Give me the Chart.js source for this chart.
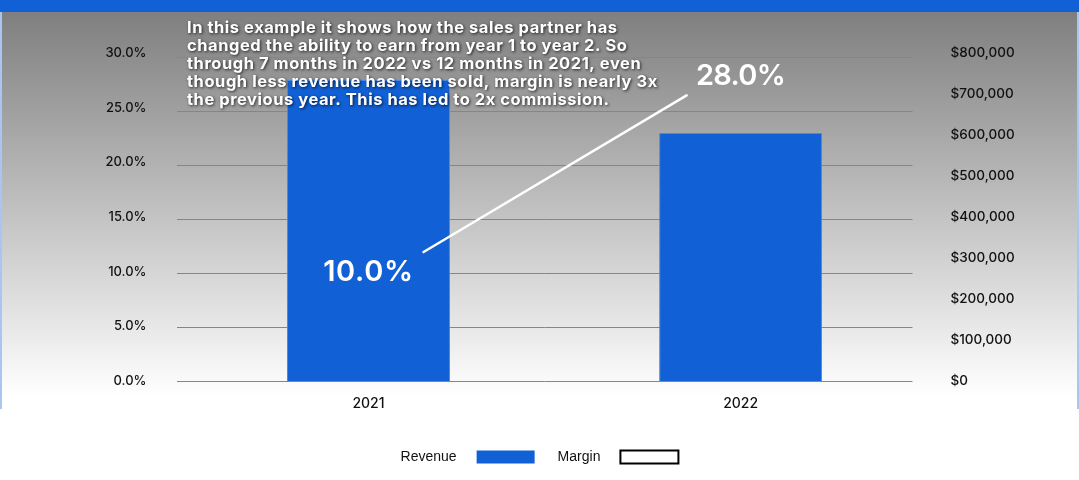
<!DOCTYPE html>
<html>
<head>
<meta charset="utf-8">
<script src="https://cdn.jsdelivr.net/npm/chart.js@4.4.1/dist/chart.umd.min.js"></script>
<style>
  html, body { margin: 0; padding: 0; background: #ffffff; }
  #wrap { position: relative; width: 1079px; height: 480px; }
</style>
</head>
<body>
<div id="wrap"><canvas id="c" width="1079" height="480"></canvas></div>
<script>
// ---- data ----
const categories = ['2021', '2022'];
const revenue = [734000, 605000];
const margin = [0.10, 0.28];
const percentTicks = [0, 0.05, 0.10, 0.15, 0.20, 0.25, 0.30];
const dollarTicks = [0, 100000, 200000, 300000, 400000, 500000, 600000, 700000, 800000];
const noteLines = [
  'In this example it shows how the sales partner has',
  'changed the ability to earn from year 1 to year 2. So',
  'through 7 months in 2022 vs 12 months in 2021, even',
  'though less revenue has been sold, margin is nearly 3x',
  'the previous year. This has led to 2x commission.'
];
const legendItems = [
  { label: 'Revenue', fill: '#1160d6', stroke: '#1160d6', lw: 0 },
  { label: 'Margin', fill: '#ffffff', stroke: '#000000', lw: 2 }
];

const BLUE = '#1160d6';
const TICK_FONT = { family: 'Inter', size: 13, weight: '500' };

const bgPlugin = {
  id: 'bg',
  beforeDraw(chart) {
    const ctx = chart.ctx, W = chart.width;
    ctx.save();
    ctx.fillStyle = '#ffffff';
    ctx.fillRect(0, 0, W, chart.height);
    const g = ctx.createLinearGradient(0, 12, 0, 397);
    g.addColorStop(0, '#7f7f7f');
    g.addColorStop(1, '#ffffff');
    ctx.fillStyle = g;
    ctx.fillRect(0, 12, W, 385);
    ctx.fillStyle = BLUE;
    ctx.fillRect(0, 0, W, 12);
    ctx.fillStyle = '#a9c6f0';
    ctx.fillRect(0, 12, 2, 397);
    ctx.fillRect(W - 2, 12, 2, 397);
    ctx.restore();
  }
};

function fitSpacing(ctx, text, target) {
  ctx.letterSpacing = '0px';
  const w = ctx.measureText(text).width;
  return (target - w) / (text.length - 1);
}

const overlayPlugin = {
  id: 'overlay',
  afterDatasetsDraw(chart) {
    const ctx = chart.ctx;
    const meta = chart.getDatasetMeta(1);
    const p0 = meta.data[0], p1 = meta.data[1];
    const t0 = 0.148, t1 = 0.855;
    ctx.save();
    ctx.strokeStyle = '#ffffff';
    ctx.lineWidth = 2.5;
    ctx.lineCap = 'round';
    ctx.beginPath();
    ctx.moveTo(p0.x + (p1.x - p0.x) * t0, p0.y + (p1.y - p0.y) * t0 + 9.5);
    ctx.lineTo(p0.x + (p1.x - p0.x) * t1, p0.y + (p1.y - p0.y) * t1 - 8);
    ctx.stroke();
    // data labels
    ctx.fillStyle = '#ffffff';
    ctx.font = '600 29px Inter';
    ctx.textAlign = 'center';
    ctx.textBaseline = 'middle';
    meta.data.forEach((pt, i) => {
      const s = (margin[i] * 100).toFixed(1) + '%';
      ctx.letterSpacing = fitSpacing(ctx, s, 90) + 'px';
      ctx.fillText(s, pt.x, pt.y + 1);
    });
    ctx.restore();
  },
  afterDraw(chart) {
    const ctx = chart.ctx;
    ctx.save();
    // note text
    ctx.font = '700 16.5px Inter';
    ctx.textAlign = 'left';
    ctx.textBaseline = 'middle';
    const ls = fitSpacing(ctx, noteLines[0], 430);
    ctx.letterSpacing = ls + 'px';
    ctx.fillStyle = '#ffffff';
    ctx.shadowColor = 'rgba(0,0,0,0.75)';
    ctx.shadowBlur = 3;
    ctx.shadowOffsetX = 1;
    ctx.shadowOffsetY = 1.5;
    noteLines.forEach((ln, i) => ctx.fillText(ln, 187, 28 + i * 18));
    ctx.restore();

    // legend
    ctx.save();
    ctx.font = '14px "Liberation Sans", Arial, sans-serif';
    ctx.textBaseline = 'middle';
    ctx.textAlign = 'left';
    const boxW = 58, boxH = 13, gapTB = 20, gapItem = 23;
    let total = 0;
    legendItems.forEach((it, i) => {
      total += ctx.measureText(it.label).width + gapTB + boxW + (i ? gapItem : 0);
    });
    let x = chart.width / 2 - total / 2;
    const y = 457;
    legendItems.forEach((it, i) => {
      if (i) x += gapItem;
      ctx.fillStyle = '#111';
      ctx.fillText(it.label, x, y);
      x += ctx.measureText(it.label).width + gapTB;
      ctx.fillStyle = it.fill;
      ctx.fillRect(x, y - boxH / 2, boxW, boxH);
      if (it.lw) {
        ctx.strokeStyle = it.stroke;
        ctx.lineWidth = it.lw;
        ctx.strokeRect(x, y - boxH / 2, boxW, boxH);
      }
      x += boxW;
    });
    ctx.restore();
  }
};

new Chart(document.getElementById('c'), {
  type: 'bar',
  data: {
    datasets: [
      {
        label: 'Revenue', data: revenue.map((v, i) => ({ x: i, y: v })), yAxisID: 'y1', order: 2,
        backgroundColor: BLUE, borderColor: '#4a88ea', borderWidth: 1,
        categoryPercentage: 1, barPercentage: 0.438
      },
      {
        type: 'line', label: 'Margin', data: margin.map((v, i) => ({ x: i, y: v })), yAxisID: 'y', order: 1,
        showLine: false, pointRadius: 0, borderColor: '#ffffff'
      }
    ]
  },
  options: {
    responsive: false,
    animation: false,
    layout: { padding: { top: 53, left: 0, right: 0, bottom: 0 } },
    plugins: { legend: { display: false }, tooltip: { enabled: false } },
    scales: {
      x: {
        type: 'linear', min: -0.516, max: 1.462, offset: false,
        grid: { display: false, drawTicks: false, offset: false },
        border: { display: false },
        afterBuildTicks(s) { s.ticks = categories.map((c, i) => ({ value: i })); },
        ticks: { color: '#111', font: { family: 'Inter', size: 14, weight: '500' }, padding: 14,
          callback: v => categories[v] },
        afterFit(s) { s.height = 99; }
      },
      y: {
        position: 'left', min: 0, max: 0.30,
        grid: { display: false, drawTicks: false },
        border: { display: false },
        afterBuildTicks(s) { s.ticks = percentTicks.map(v => ({ value: v })); },
        ticks: { color: '#111', font: TICK_FONT, padding: 30,
          callback: v => (v * 100).toFixed(1) + '%' },
        afterFit(s) { s.width = 176.5; }
      },
      yg: {
        position: 'left', min: 0, max: 30.46,
        grid: { color: '#868686', lineWidth: 1, drawTicks: false },
        border: { display: false },
        ticks: { display: false, stepSize: 5, includeBounds: false },
        afterFit(s) { s.width = 0; }
      },
      y1: {
        position: 'right', min: 0, max: 800000,
        grid: { display: false, drawTicks: false },
        border: { display: false },
        afterBuildTicks(s) { s.ticks = dollarTicks.map(v => ({ value: v })); },
        ticks: { color: '#111', font: { family: 'Inter', size: 13.5, weight: '500' }, padding: 38,
          callback: v => '$' + v.toLocaleString('en-US') },
        afterFit(s) { s.width = 166.5; }
      }
    }
  },
  plugins: [bgPlugin, overlayPlugin]
});
</script>
</body>
</html>
